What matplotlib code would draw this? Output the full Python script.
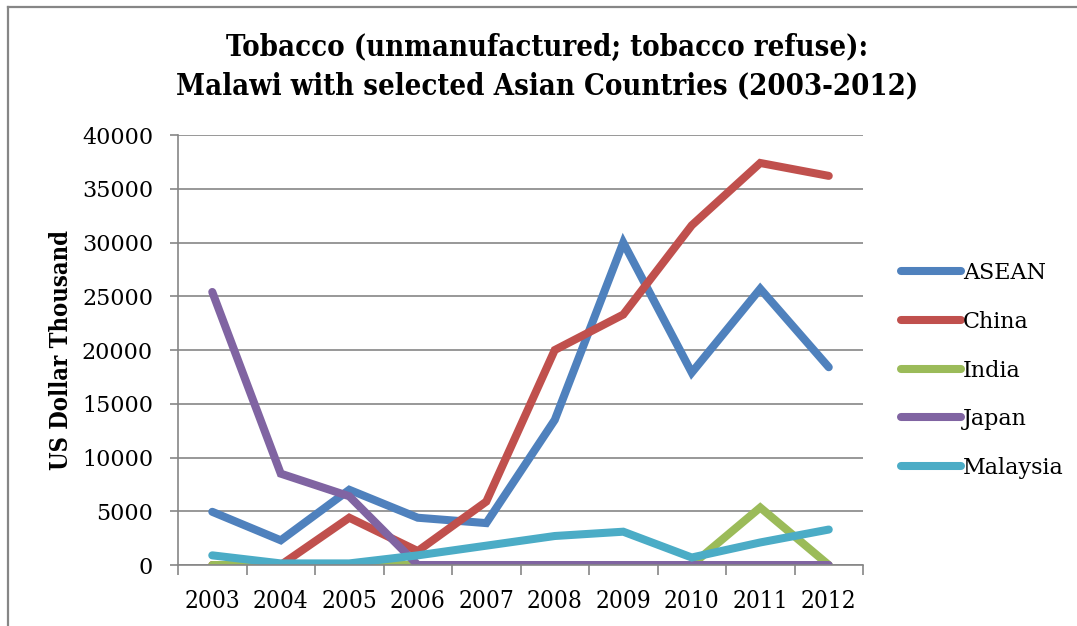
import matplotlib
matplotlib.use('Agg')
import matplotlib.pyplot as plt
from matplotlib.lines import Line2D
import numpy as np

years = ['2003', '2004', '2005', '2006', '2007', '2008', '2009', '2010', '2011', '2012']

asean = [4950, 2300, 7000, 4400, 3900, 13500, 30000, 17900, 25700, 18400]
china = [0, 0, 4400, 1300, 5900, 20000, 23300, 31600, 37400, 36200]
india = [0, 0, 0, 0, 0, 0, 0, 0, 5350, 0]
japan = [25400, 8500, 6400, 0, 0, 0, 0, 0, 0, 0]
malaysia = [900, 150, 150, 900, 1800, 2700, 3100, 700, 2100, 3300]

series = [('ASEAN', asean, '#4F81BD'),
          ('China', china, '#C0504D'),
          ('India', india, '#9BBB59'),
          ('Japan', japan, '#8064A2'),
          ('Malaysia', malaysia, '#4BACC6')]

grey = '#868686'
serif = 'DejaVu Serif'

fig = plt.figure(figsize=(10.77, 6.26), dpi=100)
ax = fig.add_axes([0.1653, 0.0974, 0.636, 0.6869])

x = np.arange(len(years))
for name, vals, col in series:
    ax.plot(x, vals, color=col, linewidth=5.8, solid_capstyle='round',
            solid_joinstyle='miter', label=name)

ax.set_xlim(-0.5, len(years) - 0.5)
ax.set_ylim(0, 40000)
ax.set_yticks(np.arange(0, 40001, 5000))
ax.yaxis.grid(True, color=grey, linewidth=1.2)
ax.set_axisbelow(True)

ax.set_xticks(x)
ax.set_xticklabels(years, family=serif, fontstretch='condensed', fontsize=17.5)
ax.set_xticks(np.arange(-0.5, len(years)), minor=True)
ax.tick_params(axis='x', which='major', length=0, pad=18)
ax.tick_params(axis='x', which='minor', length=7, width=1.2, color=grey, direction='out')
ax.tick_params(axis='y', length=6, width=1.2, color=grey, direction='out', pad=12)
for lab in ax.get_yticklabels():
    lab.set_family(serif)
    lab.set_fontsize(16)

for s in ['top', 'right']:
    ax.spines[s].set_visible(False)
for s in ['left', 'bottom']:
    ax.spines[s].set_color(grey)
    ax.spines[s].set_linewidth(1.2)

ax.set_ylabel('US Dollar Thousand', family=serif, fontweight='bold',
              fontstretch='condensed', fontsize=17, labelpad=6)

fig.text(0.508, 0.894, 'Tobacco (unmanufactured; tobacco refuse):\nMalawi with selected Asian Countries (2003-2012)',
         ha='center', va='center', family=serif, fontweight='bold',
         fontstretch='condensed', fontsize=21, linespacing=1.4)

leg = ax.legend(loc='center left', bbox_to_anchor=(0.818, 0.408),
                bbox_transform=fig.transFigure, frameon=False,
                prop={'family': serif, 'size': 16}, handlelength=2.7,
                handletextpad=0.1, labelspacing=1.2)

# outer chart frame
fig.add_artist(Line2D([8 / 1077, 8 / 1077], [0, 1 - 7 / 626], color=grey,
                      linewidth=1.6, transform=fig.transFigure))
fig.add_artist(Line2D([8 / 1077, 1], [1 - 7 / 626, 1 - 7 / 626], color=grey,
                      linewidth=1.6, transform=fig.transFigure))

fig.savefig('out.png', dpi=100)
plt.close(fig)
